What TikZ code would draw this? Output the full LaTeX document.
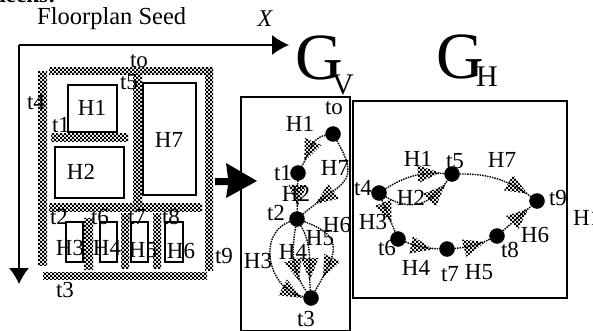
\documentclass[tikz,border=0pt]{standalone}
\usepackage{fontspec}
\setmainfont{Liberation Serif}
\usetikzlibrary{arrows.meta,patterns,decorations.markings}
\pgfdeclarepatternformonly{finecheck}{\pgfqpoint{-.1pt}{-.1pt}}{\pgfqpoint{4.1pt}{4.1pt}}{\pgfqpoint{4pt}{4pt}}{
	\pgfpathrectangle{\pgfqpoint{0pt}{0pt}}{\pgfqpoint{2pt}{2pt}}
	\pgfpathrectangle{\pgfqpoint{2pt}{2pt}}{\pgfqpoint{2pt}{2pt}}
	\pgfusepath{fill}}
\tikzset{
	lbl/.style={inner sep=0pt,font=\fontsize{23}{23}\selectfont},
	wall/.style={pattern=finecheck},
	room/.style={draw,line width=1.3pt},
	main_node/.style={circle,fill=black,draw,minimum size=15pt,inner sep=0pt},
	panel/.style={draw,line width=1.3pt},
	flow/.style={dash pattern=on 1.5pt off 1pt,line width=1.4pt,postaction={decorate},
		decoration={markings,mark=at position #1 with {\path[solid,line width=0pt,pattern=finecheck] (11,0) -- (-11,9) -- (-11,-9) -- cycle;}}}
}
\begin{document}
\begin{tikzpicture}[x=1pt,y=-1pt]
	\useasboundingbox (0,0) rectangle (593,331);
	\clip (0,0) rectangle (593,331);
	
	\node[lbl,font=\fontsize{23}{23}\bfseries\selectfont,anchor=base east] (head) at (56,3) {decks:};
	\node[lbl,font=\fontsize{24.5}{24.5}\selectfont,anchor=west] (seed) at (37,19) {Floorplan Seed};
	\node[lbl,font=\fontsize{24}{24}\itshape\selectfont] (xlabel) at (265,19) {X};
	
	% axes
	\coordinate (origin) at (19,45);
	\coordinate (xend) at (289,45);
	\coordinate (yend) at (19,284);
	\draw[line width=1.2pt,-{Latex[length=17pt,width=20pt]}] (origin) -- (xend);
	\draw[line width=1.2pt,-{Latex[length=16pt,width=20pt]}] (origin) -- (yend);
	
	% walls
	\fill[wall] (49,68) rectangle (213,75);
	\fill[wall] (38,72) rectangle (47,265);
	\fill[wall] (205,68) rectangle (213,270);
	\fill[wall] (133,75) rectangle (142,205);
	\fill[wall] (51,134) rectangle (128,142);
	\fill[wall] (49,203) rectangle (202,211);
	\fill[wall] (43,272) rectangle (207,279);
	\fill[wall] (84,218) rectangle (93,269);
	\fill[wall] (121,213) rectangle (129,268);
	\fill[wall] (153,213) rectangle (161,268);
	
	% rooms
	\draw[room] (68,85) rectangle (117,132);
	\draw[room] (143,83) rectangle (196,195);
	\draw[room] (55,147) rectangle (124,198);
	\draw[room] (66,222) rectangle (83,262);
	\draw[room] (100,222) rectangle (117,262);
	\draw[room] (131,222) rectangle (148,262);
	\draw[room] (165,222) rectangle (183,262);
	
	\node[lbl] (planh1) at (92,108) {H1};
	\node[lbl] (planh7) at (169,140) {H7};
	\node[lbl] (planh2) at (81,172) {H2};
	\node[lbl] (planh3) at (70,248) {H3};
	\node[lbl] (planh4) at (107,248) {H4};
	\node[lbl] (planh5) at (143,250) {H5};
	\node[lbl] (planh6) at (181,251) {H6};
	\node[lbl] (plant0) at (139,61) {to};
	\node[lbl] (plant5) at (129,82) {t5};
	\node[lbl] (plant4) at (36,102) {t4};
	\node[lbl] (plant1) at (61,125) {t1};
	\node[lbl] (plant2) at (59,217) {t2};
	\node[lbl] (plant6) at (100,217) {t6};
	\node[lbl] (plant7) at (137,217) {t7};
	\node[lbl] (plant8) at (171,217) {t8};
	\node[lbl] (plant9) at (224,256) {t9};
	\node[lbl] (plant3) at (65,290) {t3};
	
	% big arrow
	\fill (215,178) -- (228,178) -- (226,163) -- (257,181) -- (226,198) -- (228,185) -- (215,185) -- cycle;
	
	% vertical graph
	\draw[panel] (241,97) rectangle (350,331);
	\node[lbl,font=\fontsize{66}{66}\selectfont] (gv) at (319,58) {G};
	\node[lbl,font=\fontsize{30}{30}\selectfont] (gvsub) at (343,85) {V};
	
	\node[main_node] (v0) at (333,134) {};
	\node[main_node] (v1) at (298,173) {};
	\node[main_node] (v2) at (297,219) {};
	\node[main_node] (v3) at (311,298) {};
	
	\path
	(v0) edge[flow=0.6,out=190,in=60] (v1)
	(v0) edge[flow=0.72,out=-60,in=40,looseness=1.6] (v2)
	(v1) edge[flow=0.5] (v2)
	(v2) edge[flow=0.88,out=200,in=170,looseness=1.2] (v3)
	(v2) edge[flow=0.65,out=-100,in=125] (v3)
	(v2) edge[flow=0.68,out=-60,in=95] (v3)
	(v2) edge[flow=0.7,out=-20,in=60,looseness=1.6] (v3);
	
	\node[lbl] (vt0) at (334,108) {to};
	\node[lbl] (vh1) at (300,124) {H1};
	\node[lbl] (vh7) at (335,168) {H7};
	\node[lbl] (vt1) at (283,173) {t1};
	\node[lbl] (vh2) at (296,194) {H2};
	\node[lbl] (vt2) at (276,213) {t2};
	\node[lbl] (vh6) at (337,225) {H6};
	\node[lbl] (vh5) at (320,238) {H5};
	\node[lbl] (vh4) at (293,252) {H4};
	\node[lbl] (vh3) at (258,261) {H3};
	\node[lbl] (vt3) at (306,319) {t3};
	
	% horizontal graph
	\draw[panel] (353,101) rectangle (567,298);
	\node[lbl,font=\fontsize{66}{66}\selectfont] (gh) at (460,57) {G};
	\node[lbl,font=\fontsize{30}{30}\selectfont] (ghsub) at (487,77) {H};
	
	\node[main_node] (h4) at (379,193) {};
	\node[main_node] (h5) at (452,174) {};
	\node[main_node] (h9) at (537,201) {};
	\node[main_node] (h6) at (398,239) {};
	\node[main_node] (h7) at (447,249) {};
	\node[main_node] (h8) at (497,236) {};
	
	\path
	(h4) edge[flow=0.75,bend left=18] (h5)
	(h4) edge[flow=0.78,out=-30,in=235,looseness=1.2] (h5)
	(h5) edge[flow=0.8,bend left=18] (h9)
	(h4) edge[flow=0.4] (h6)
	(h6) edge[flow=0.5,bend right=10] (h7)
	(h7) edge[flow=0.55,bend right=10] (h8)
	(h8) edge[flow=0.62] (h9);
	
	\node[lbl] (hh1) at (418,159) {H1};
	\node[lbl] (ht5) at (455,161) {t5};
	\node[lbl] (hh7) at (502,160) {H7};
	\node[lbl] (ht4) at (363,188) {t4};
	\node[lbl] (hh2) at (411,198) {H2};
	\node[lbl] (ht9) at (558,198) {t9};
	\node[lbl] (hh3) at (373,222) {H3};
	\node[lbl] (ht6) at (387,248) {t6};
	\node[lbl] (hh4) at (416,268) {H4};
	\node[lbl] (ht7) at (450,274) {t7};
	\node[lbl] (hh5) at (479,272) {H5};
	\node[lbl] (ht8) at (510,250) {t8};
	\node[lbl] (hh6) at (535,235) {H6};
	\node[lbl,anchor=west] (hh1b) at (573,218) {H1};
\end{tikzpicture}
\end{document}
